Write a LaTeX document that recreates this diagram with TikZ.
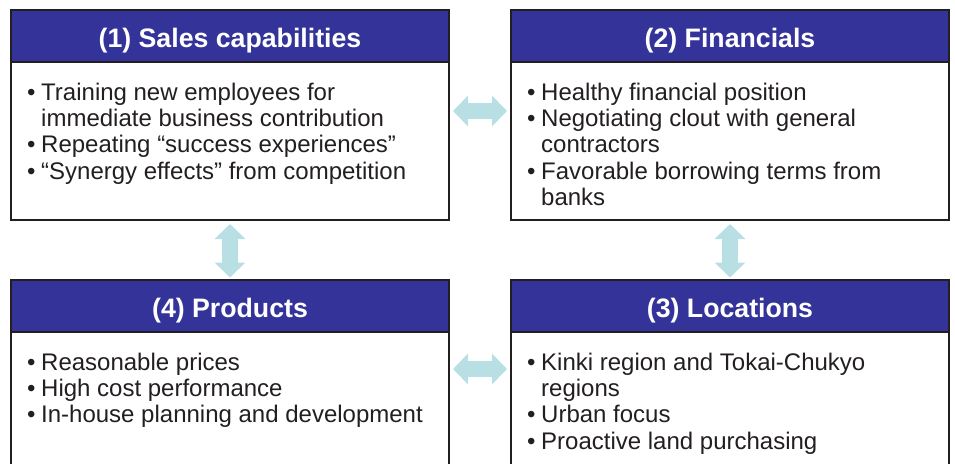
\documentclass[tikz,border=0pt]{standalone}
\usepackage{fontspec}
\setmainfont{Liberation Sans}
\usetikzlibrary{arrows.meta}
\usetikzlibrary{positioning}
\definecolor{hdrblue}{RGB}{51,51,153}
\definecolor{linkcyan}{RGB}{184,224,228}
\definecolor{frame}{RGB}{35,31,32}
\newcommand{\bul}{\makebox[14pt][l]{\textbullet}}
\newcommand{\ind}{\hspace*{14pt}}
\tikzstyle{heading} = [rectangle, minimum width=438pt, minimum height=52pt, outer sep=0pt, fill=hdrblue, draw=frame, line width=1.5pt, text=white, text height=24pt, text depth=1.5pt, font=\bfseries\fontsize{26.7}{30}\selectfont]
\tikzstyle{panel} = [rectangle, minimum width=438pt, minimum height=158pt, outer sep=0pt, fill=white, draw=frame, line width=1.5pt]
\tikzstyle{points} = [anchor=north west, inner sep=0pt, align=left, text=frame, font=\fontsize{24}{26.4}\selectfont]
\tikzstyle{twoway} = [line width=16pt, draw=linkcyan, {Triangle[length=15pt,width=30pt]}-{Triangle[length=15pt,width=30pt]}]

\begin{document}
\begin{tikzpicture}[x=1pt, y=1pt]
\useasboundingbox (0,0) rectangle (955,-463);
\clip (0,0) rectangle (955,-463);

\node (saleshead) [heading] at (230,-36) {(1) Sales capabilities};
\node (salesbody) [panel, below=0pt of saleshead] {};
\node (finhead) [heading, right=62pt of saleshead] {(2) Financials};
\node (finbody) [panel, below=0pt of finhead] {};
\node (prodhead) [heading, below=60pt of salesbody] {(4) Products};
\node (prodbody) [panel, below=0pt of prodhead] {};
\node (lochead) [heading, below=60pt of finbody] {(3) Locations};
\node (locbody) [panel, below=0pt of lochead] {};

\node (salestext) [points] at ([xshift=16pt,yshift=-20.5pt]salesbody.north west) {
  \bul Training new employees for\\
  \ind immediate business contribution\\
  \bul Repeating “success experiences”\\
  \bul “Synergy effects” from competition};
\node (fintext) [points] at ([xshift=16pt,yshift=-20.5pt]finbody.north west) {
  \bul Healthy financial position\\
  \bul Negotiating clout with general\\
  \ind contractors\\
  \bul Favorable borrowing terms from\\
  \ind banks};
\node (prodtext) [points] at ([xshift=16pt,yshift=-20.5pt]prodbody.north west) {
  \bul Reasonable prices\\
  \bul High cost performance\\
  \bul In-house planning and development};
\node (loctext) [points] at ([xshift=16pt,yshift=-20.5pt]locbody.north west) {
  \bul Kinki region and Tokai-Chukyo\\
  \ind regions\\
  \bul Urban focus\\
  \bul Proactive land purchasing};

% two-way links
\draw [twoway, shorten <=4pt, shorten >=4pt] ([yshift=-49pt]salesbody.north east) -- ([yshift=-49pt]finbody.north west);
\draw [twoway, shorten <=4pt, shorten >=2.5pt] (salesbody.south) -- (prodhead.north);
\draw [twoway, shorten <=4pt, shorten >=2.5pt] (finbody.south) -- (lochead.north);
\draw [twoway, shorten <=4pt, shorten >=4pt] ([yshift=-37pt]prodbody.north east) -- ([yshift=-37pt]locbody.north west);

\end{tikzpicture}
\end{document}
